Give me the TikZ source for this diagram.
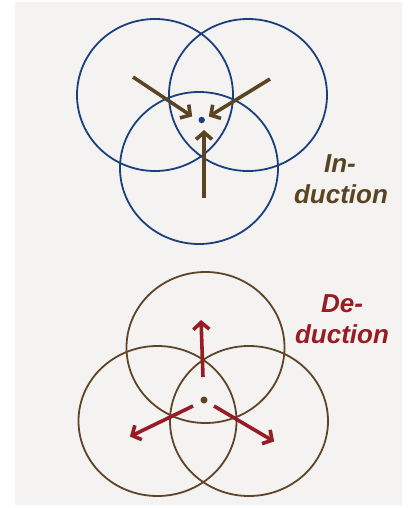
\documentclass[tikz,border=0pt]{standalone}
\usepackage{fontspec}
\newfontfamily\labfont{Liberation Sans}
\usetikzlibrary{arrows.meta}
\definecolor{bgc}{HTML}{F4F3F2}
\definecolor{bluec}{HTML}{1B3F7C}
\definecolor{brownc}{HTML}{5B4422}
\definecolor{redc}{HTML}{981C24}
\definecolor{brcirc}{HTML}{5E4528}
\tikzset{
  ring/.style={line width=1.8pt},
  inarrow/.style={brownc, line width=3.6pt, -{Straight Barb[length=7pt,width=16pt,line width=3.6pt]}, shorten >=1pt},
  dearrow/.style={redc, line width=3.6pt, -{Straight Barb[length=7pt,width=16pt,line width=3.6pt]}, shorten >=1pt},
  lab/.style={font=\labfont\bfseries\itshape\fontsize{26}{30}\selectfont, anchor=base, inner sep=0pt}
}
\begin{document}
\begin{tikzpicture}[x=1pt,y=-1pt]
\useasboundingbox (0,0) rectangle (408,508);
\fill[bgc] (15,2) rectangle (402,505);
% Induction
\draw[ring, bluec] (155,95) ellipse [x radius=78pt, y radius=76pt];
\draw[ring, bluec] (248,95) ellipse [x radius=79pt, y radius=76pt];
\draw[ring, bluec] (199,168) ellipse [x radius=79pt, y radius=76pt];
\coordinate (ic) at (201.7,120);
\fill[bluec] (ic) circle (3.2pt);
\coordinate (i1s) at (133,77);  \coordinate (i1e) at (193,117);
\coordinate (i2s) at (270,79);  \coordinate (i2e) at (208,117);
\coordinate (i3s) at (204,198); \coordinate (i3e) at (204,129);
\draw[inarrow] (i1s) -- (i1e);
\draw[inarrow] (i2s) -- (i2e);
\draw[inarrow] (i3s) -- (i3e);
\node[lab, text=brownc] (in1) at (340,172) {In-};
\node[lab, text=brownc] (in2) at (341,203) {duction};
% Deduction
\draw[ring, brcirc] (205.5,347.5) ellipse [x radius=79pt, y radius=75.5pt];
\draw[ring, brcirc] (157.5,421) ellipse [x radius=79pt, y radius=75pt];
\draw[ring, brcirc] (249,421) ellipse [x radius=79pt, y radius=75pt];
\coordinate (dc) at (204,400);
\fill[brcirc] (dc) circle (3.5pt);
\coordinate (d1s) at (203,377); \coordinate (d1e) at (201,319);
\coordinate (d2s) at (193,406); \coordinate (d2e) at (129,437);
\coordinate (d3s) at (214,406); \coordinate (d3e) at (275,442);
\draw[dearrow] (d1s) -- (d1e);
\draw[dearrow] (d2s) -- (d2e);
\draw[dearrow] (d3s) -- (d3e);
\node[lab, text=redc] (de1) at (342,312) {De-};
\node[lab, text=redc] (de2) at (342,343) {duction};
\end{tikzpicture}
\end{document}
